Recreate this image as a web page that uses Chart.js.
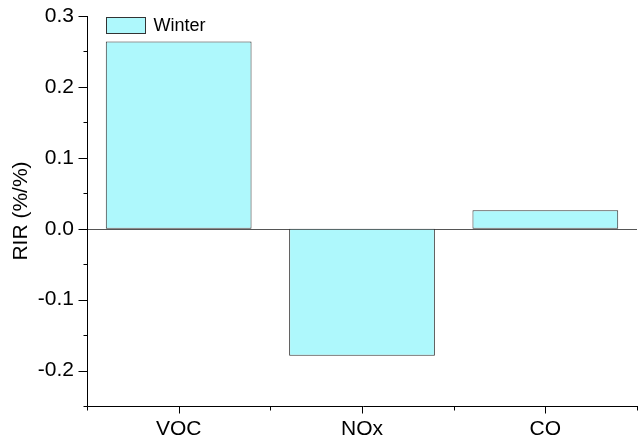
<!DOCTYPE html>
<html>
<head>
<meta charset="utf-8">
<script src="https://cdn.jsdelivr.net/npm/chart.js@4"></script>
<style>
  body { margin: 0; background: #fff; }
</style>
</head>
<body>
<canvas id="grafico" width="638" height="447"></canvas>
<script>
const categorias = ["VOC", "NOx", "CO"];
const winter = [0.264, -0.179, 0.026];
const serieLabel = "Winter";
const yMin = -0.25;
const yMax = 0.3;
const yTitulo = "RIR (%/%)";

const fuente = "'Liberation Sans', Arial, sans-serif";
const colorBarra = "#aef8fc";
const colorBorde = "#333333";

function esMayor(v) {
  return Math.abs(Math.round(v * 10) - v * 10) < 1e-6;
}

// ejes, ticks, linea del cero y leyenda
const ejes = {
  id: "ejes",
  beforeDatasetsDraw(chart) {
    const { ctx, chartArea, scales } = chart;
    const y0 = Math.round(scales.y.getPixelForValue(0)) + 0.5;
    ctx.save();
    ctx.strokeStyle = "#555";
    ctx.lineWidth = 1;
    ctx.beginPath();
    ctx.moveTo(chartArea.left, y0);
    ctx.lineTo(chartArea.right, y0);
    ctx.stroke();
    ctx.restore();
  },
  afterDraw(chart) {
    const { ctx, chartArea, scales } = chart;
    const x = scales.x, y = scales.y;
    const izq = Math.round(chartArea.left) + 0.5;
    const abajo = Math.round(chartArea.bottom) + 0.5;
    ctx.save();
    ctx.strokeStyle = "#000";
    ctx.lineWidth = 1;
    ctx.beginPath();
    ctx.moveTo(izq, Math.round(chartArea.top));
    ctx.lineTo(izq, abajo);
    ctx.lineTo(chartArea.right + 2, abajo);
    y.ticks.forEach(t => {
      const py = Math.round(y.getPixelForValue(t.value)) + 0.5;
      const len = esMayor(t.value) ? 9 : 4;
      ctx.moveTo(izq - len, py);
      ctx.lineTo(izq, py);
    });
    categorias.forEach((c, i) => {
      const px = Math.round(x.getPixelForValue(i)) + 0.5;
      ctx.moveTo(px, abajo);
      ctx.lineTo(px, abajo + 7);
    });
    for (let i = 0; i <= categorias.length; i++) {
      const px = Math.round(x.getPixelForValue(i - 0.5)) + 0.5;
      ctx.moveTo(px, abajo);
      ctx.lineTo(px, abajo + 4);
    }
    ctx.stroke();

    // leyenda
    const bx = Math.round(x.getPixelForValue(-0.5) + 19) + 0.5;
    const by = chartArea.top + 1.5;
    ctx.fillStyle = colorBarra;
    ctx.fillRect(bx, by, 39, 16);
    ctx.strokeStyle = colorBorde;
    ctx.strokeRect(bx, by, 39, 16);
    ctx.fillStyle = "#000";
    ctx.font = "18px " + fuente;
    ctx.textBaseline = "middle";
    ctx.fillText(chart.data.datasets[0].label, bx + 47, by + 8.5);
    ctx.restore();
  }
};

new Chart(document.getElementById("grafico"), {
  type: "bar",
  data: {
    labels: categorias,
    datasets: [{
      label: serieLabel,
      data: winter,
      backgroundColor: colorBarra,
      borderColor: colorBorde,
      borderWidth: 1,
      borderSkipped: false,
      categoryPercentage: 1,
      barPercentage: 0.795
    }]
  },
  options: {
    responsive: false,
    animation: false,
    layout: { padding: { top: 16, right: 1, left: 0, bottom: 0 } },
    plugins: { legend: { display: false }, tooltip: { enabled: false } },
    scales: {
      x: {
        offset: true,
        grid: { display: false, drawTicks: false },
        border: { display: false },
        ticks: { color: "#000", font: { family: fuente, size: 21 }, padding: 11 },
        afterFit(s) { s.height = 41; s.paddingLeft = 0; s.paddingRight = 0; }
      },
      y: {
        min: yMin,
        max: yMax,
        grid: { display: false, drawTicks: false },
        border: { display: false },
        ticks: {
          stepSize: 0.05,
          autoSkip: false,
          color: "#000",
          font: { family: fuente, size: 21 },
          padding: 13,
          callback: v => esMayor(v) ? v.toFixed(1) : ""
        },
        title: {
          display: true,
          text: yTitulo,
          color: "#000",
          font: { family: fuente, size: 21 },
          padding: { top: 9, bottom: 0 }
        },
        afterFit(s) { s.width = 87; s.paddingTop = 0; s.paddingBottom = 0; }
      }
    }
  },
  plugins: [ejes]
});
</script>
</body>
</html>
